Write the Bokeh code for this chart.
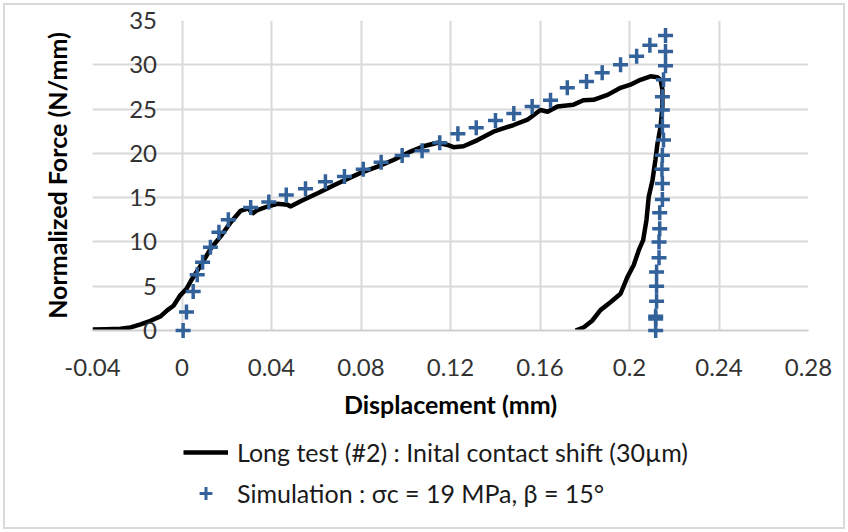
from bokeh.plotting import figure
from bokeh.models import Legend, LegendItem, Range1d
from bokeh.layouts import column
from bokeh.core.properties import value
from bokeh.embed import file_html
from bokeh.resources import INLINE

# Long test (#2) curve: displacement (mm), normalized force (N/mm)
test_x = [-0.0400, -0.0340, -0.0275, -0.0230, -0.0185, -0.0141, -0.0096, -0.0065, -0.0038, -0.0007,
          0.0020, 0.0042, 0.0083, 0.0127, 0.0172, 0.0217, 0.0261, 0.0297, 0.0315, 0.0337,
          0.0382, 0.0427, 0.0472, 0.0485, 0.0530, 0.0606, 0.0695, 0.0798, 0.0874, 0.0945,
          0.1021, 0.1079, 0.1142, 0.1187, 0.1213, 0.1258, 0.1321, 0.1392, 0.1482, 0.1544,
          0.1602, 0.1634, 0.1678, 0.1750, 0.1794, 0.1839, 0.1902, 0.1960, 0.2004, 0.2049,
          0.2094, 0.2125, 0.2139, 0.2147, 0.2147, 0.2139, 0.2125, 0.2116, 0.2103, 0.2086,
          0.2076, 0.2061, 0.2042, 0.2019, 0.1990, 0.1960, 0.1915, 0.1870, 0.1833, 0.1796, 0.1759]
test_f = [0.1, 0.15, 0.2, 0.35, 0.7, 1.1, 1.6, 2.3, 2.8, 4.0,
          4.7, 5.7, 7.3, 9.2, 10.6, 12.2, 13.5, 13.8, 13.2, 13.6,
          14.0, 14.3, 14.2, 14.0, 14.6, 15.5, 16.6, 17.8, 18.5, 19.25,
          20.2, 20.8, 21.2, 20.95, 20.7, 20.8, 21.5, 22.45, 23.2, 23.8,
          24.9, 24.7, 25.3, 25.5, 26.0, 26.05, 26.6, 27.4, 27.75, 28.3,
          28.7, 28.6, 28.3, 27.2, 25.3, 23.0, 21.1, 19.3, 17.0, 15.1,
          12.5, 10.2, 9.1, 7.4, 6.0, 4.15, 3.2, 2.3, 1.1, 0.37, 0.0]

# Simulation points
sim_x = [0.0005, 0.0020, 0.0050, 0.0068, 0.0092, 0.0127, 0.0165, 0.0207, 0.0307, 0.0388,
         0.0466, 0.0552, 0.0641, 0.0726, 0.0810, 0.0890, 0.0984, 0.1073, 0.1152, 0.1233,
         0.1315, 0.1401, 0.1483, 0.1565, 0.1647, 0.1722, 0.1808, 0.1878, 0.1960, 0.2032,
         0.2091, 0.2161, 0.2161, 0.2161, 0.2152, 0.2147, 0.2147, 0.2147, 0.2152, 0.2147,
         0.2145, 0.2147, 0.2147, 0.2135, 0.2135, 0.2132, 0.2132, 0.2121, 0.2121, 0.2121,
         0.2117, 0.2117, 0.2117]
sim_f = [0.0, 2.1, 4.4, 6.3, 7.7, 9.4, 11.1, 12.5, 13.9, 14.5,
         15.3, 16.0, 16.8, 17.4, 18.2, 19.0, 19.75, 20.3, 21.2, 22.2,
         22.9, 23.7, 24.5, 25.3, 26.0, 27.4, 28.1, 29.1, 30.0, 30.95,
         32.2, 33.3, 31.5, 29.9, 28.3, 26.4, 24.9, 23.1, 21.5, 19.8,
         18.2, 16.6, 14.8, 13.3, 11.5, 10.0, 8.2, 6.6, 5.0, 3.3,
         1.6, 1.3, 0.0]

x_ticks = [-0.04, 0, 0.04, 0.08, 0.12, 0.16, 0.2, 0.24, 0.28]
x_tick_labels = ["-0.04", "0", "0.04", "0.08", "0.12", "0.16", "0.2", "0.24", "0.28"]
y_ticks = [0, 5, 10, 15, 20, 25, 30, 35]
y_tick_labels = ["0", "5", "10", "15", "20", "25", "30", "35"]

x_title = "Displacement (mm)"
y_title = "Normalized Force (N/mm)"
label_test = "Long test (#2) : Inital contact shift (30µm)"
label_sim = "Simulation : σc = 19 MPa, β = 15°"

FONT = "Lato"
BLUE = "#33629b"
GRID = "#d9d9d9"

p = figure(width=848, height=432, output_backend="svg", toolbar_location=None,
           x_range=Range1d(x_ticks[0], x_ticks[-1]), y_range=Range1d(y_ticks[0], y_ticks[-1]),
           min_border_left=92, min_border_right=40, min_border_top=20, min_border_bottom=102)
p.outline_line_color = None
p.background_fill_color = None
p.border_fill_color = None

p.xgrid.grid_line_color = GRID
p.xgrid.grid_line_width = 2
p.ygrid.grid_line_color = GRID
p.ygrid.grid_line_width = 2

# x axis
p.xaxis.ticker = x_ticks
p.xaxis.major_label_overrides = {t: l for t, l in zip(x_ticks, x_tick_labels)}
p.xaxis.major_tick_in = 0
p.xaxis.major_tick_out = 0
p.xaxis.minor_tick_in = 0
p.xaxis.minor_tick_out = 0
p.xaxis.axis_line_color = "#cfcfcf"
p.xaxis.axis_line_width = 2
p.xaxis.major_label_text_font = FONT
p.xaxis.major_label_text_font_size = "24px"
p.xaxis.major_label_text_color = "#333333"
p.xaxis.major_label_standoff = 28
p.xaxis.axis_label = x_title
p.xaxis.axis_label_text_font = FONT
p.xaxis.axis_label_text_font_size = "25px"
p.xaxis.axis_label_text_font_style = "bold"
p.xaxis.axis_label_text_color = "black"
p.xaxis.axis_label_standoff = 10

# y axis (labels drawn at x = 0 like the reference)
p.yaxis.ticker = y_ticks
p.yaxis.major_label_overrides = {t: "" for t in y_ticks}
p.yaxis.major_tick_in = 0
p.yaxis.major_tick_out = 0
p.yaxis.minor_tick_in = 0
p.yaxis.minor_tick_out = 0
p.yaxis.axis_line_color = None
p.yaxis.major_label_standoff = 0
p.yaxis.axis_label = y_title
p.yaxis.axis_label_text_font = FONT
p.yaxis.axis_label_text_font_size = "25px"
p.yaxis.axis_label_text_font_style = "bold"
p.yaxis.axis_label_text_color = "black"
p.yaxis.axis_label_standoff = 21

p.text(x=[0] * len(y_ticks), y=y_ticks, text=y_tick_labels, x_offset=-25,
       text_align="right", text_baseline="middle", text_font=value(FONT),
       text_font_size="24px", text_color="#333333", level="overlay")

p.line(test_x, test_f, line_color="black", line_width=4.5)
p.scatter(sim_x, sim_f, marker="cross", size=15, line_color=BLUE,
          line_width=3.5, level="overlay")

# legend strip below the chart (its ranges keep the series out of view;
# the renderers only supply the legend glyphs)
pl = figure(width=848, height=100, output_backend="svg", toolbar_location=None,
            x_axis_location=None, y_axis_location=None, min_border=0,
            x_range=Range1d(10, 11), y_range=Range1d(1000, 1001))
pl.grid.visible = False
pl.outline_line_color = None
pl.background_fill_color = None
pl.border_fill_color = None
leg_line = pl.line(test_x, test_f, line_color="black", line_width=4.5)
leg_sim = pl.scatter(sim_x, sim_f, marker="cross", size=12, line_color=BLUE, line_width=3)

legend = Legend(items=[LegendItem(label=label_test, renderers=[leg_line]),
                       LegendItem(label=label_sim, renderers=[leg_sim])],
                location=(91, 23), orientation="vertical",
                padding=0, margin=0, border_line_color=None, background_fill_alpha=0,
                glyph_width=45, glyph_height=32, label_height=32, label_standoff=9, spacing=9,
                label_text_font=FONT, label_text_font_size="25px", label_text_color="#1a1a1a")
pl.add_layout(legend, "center")

layout = column(p, pl, spacing=0,
                styles={"outline": "2px solid #d9d9d9", "outline-offset": "-5px"})
open("out.html", "w").write(file_html(layout, INLINE))
